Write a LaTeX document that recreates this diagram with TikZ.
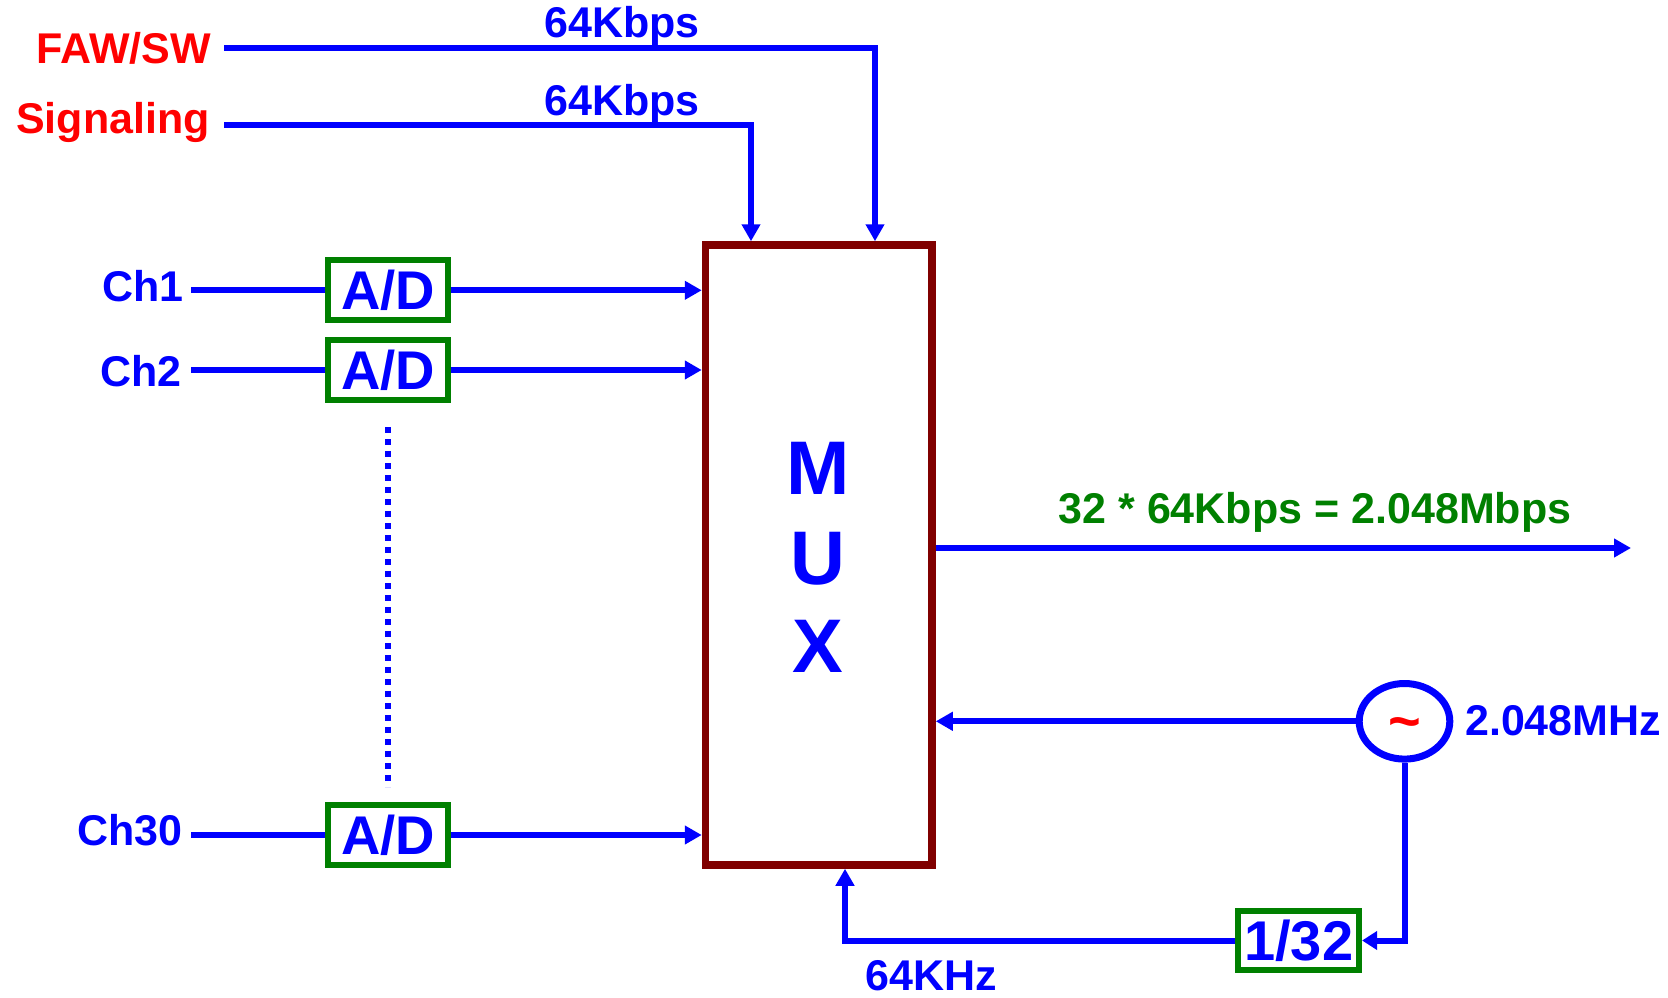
\documentclass[tikz,border=0pt]{standalone}
\usepackage{fontspec}
\setmainfont{Liberation Sans}
\usetikzlibrary{arrows.meta,shapes.geometric}
\definecolor{myblue}{RGB}{0,0,255}
\definecolor{myred}{RGB}{255,0,0}
\definecolor{mygreen}{RGB}{0,128,0}
\definecolor{mymaroon}{RGB}{128,0,0}
\begin{document}
\begin{tikzpicture}[x=1pt,y=-1pt,
  conn/.style={draw=myblue,line width=6pt,line join=miter},
  arr/.style={conn,-{Triangle[length=17pt,width=18pt]}},
  adbox/.style={draw=mygreen,line width=6pt,minimum width=120pt,minimum height=60pt,inner sep=0pt,fill=white,
    font=\fontsize{54.5}{54.5}\selectfont\bfseries,text=myblue,text height=39pt,text depth=0pt},
  lbl/.style={font=\fontsize{43}{43}\selectfont\bfseries,inner sep=0pt},
  big/.style={font=\fontsize{76}{76}\selectfont\bfseries,text=myblue,anchor=base,inner sep=0pt},
]
\useasboundingbox (0,0) rectangle (1668,998);

% MUX block
\node[draw=mymaroon,line width=7.5pt,minimum width=226.5pt,minimum height=620pt,inner sep=0pt] (mux) at (818.75,555) {};
\node[big] (m) at (818.3,494) {M};
\node[big] (u) at (818.3,584) {U};
\node[big] (x) at (818.3,672.7) {X};

% FAW/SW and Signaling
\node[lbl,text=myred,anchor=base east,inner xsep=13pt] (faw) at (224,63.3) {FAW/SW};
\node[lbl,text=myred,anchor=base east,inner xsep=14pt] (sig) at (224,133) {Signaling};
\coordinate (fawc) at (875,48);
\coordinate (sigc) at (751,124.5);
\draw[arr] (faw.east |- fawc) -- (fawc) -- (fawc |- mux.north);
\draw[arr] (sig.east |- sigc) -- (sigc) -- (sigc |- mux.north);
\node[lbl,text=myblue,anchor=base] (k1) at (622,38) {64Kbps};
\node[lbl,text=myblue,anchor=base] (k2) at (622,115) {64Kbps};

% Channels
\node[adbox] (ad1) at (388,290.3) {A/D};
\node[adbox] (ad2) at (388,370) {A/D};
\node[adbox] (ad30) at (388,835) {A/D};
\node[lbl,text=myblue,anchor=base east,inner xsep=7pt] (ch1) at (191,301) {Ch1};
\node[lbl,text=myblue,anchor=base east,inner xsep=9pt] (ch2) at (191,386) {Ch2};
\node[lbl,text=myblue,anchor=base east,inner xsep=8pt] (ch30) at (191,845) {Ch30};
\draw[conn] (ch1.east |- ad1) -- (ad1.west);
\draw[conn] (ch2.east |- ad2) -- (ad2.west);
\draw[conn] (ch30.east |- ad30) -- (ad30.west);
\draw[arr] (ad1.east) -- (ad1.east -| mux.west);
\draw[arr] (ad2.east) -- (ad2.east -| mux.west);
\draw[arr] (ad30.east) -- (ad30.east -| mux.west);
\draw[draw=myblue,line width=5.5pt,dash pattern=on 5.5pt off 6.5pt] ([yshift=-24pt]ad2.south) -- ([yshift=15pt]ad30.north);

% Output
\coordinate (outc) at (1631,548);
\draw[arr] (mux.east |- outc) -- (outc);
\node[lbl,text=mygreen,anchor=base] (rate) at (1315,523.3) {32 * 64Kbps = 2.048Mbps};

% Oscillator
\node[ellipse,draw=myblue,line width=7pt,minimum width=90.6pt,minimum height=75.6pt,inner sep=0pt] (osc) at (1404.5,721.3) {};
\node[anchor=base,text=myred,inner sep=0pt,font=\fontsize{56}{56}\selectfont\bfseries] (tilde) at (1404.5,740) {\char"7E};
\node[lbl,text=myblue,anchor=base west] (mhz) at (1465,735) {2.048MHz};
\draw[arr] (osc.west) -- (osc.west -| mux.east);

% Divider
\node[adbox,minimum width=120.7pt,minimum height=59.6pt,font=\fontsize{56}{56}\selectfont\bfseries,text height=40pt] (div) at (1298.7,940.5) {1/32};
\draw[conn,-{Triangle[length=15pt,width=18pt]}] (osc.south) |- (div.east);
\coordinate (c64) at (845,940.5);
\draw[arr] (div.west) -- (c64) -- (c64 |- mux.south);
\node[lbl,text=myblue,anchor=base west] (khz) at (865,990) {64KHz};
\end{tikzpicture}
\end{document}
